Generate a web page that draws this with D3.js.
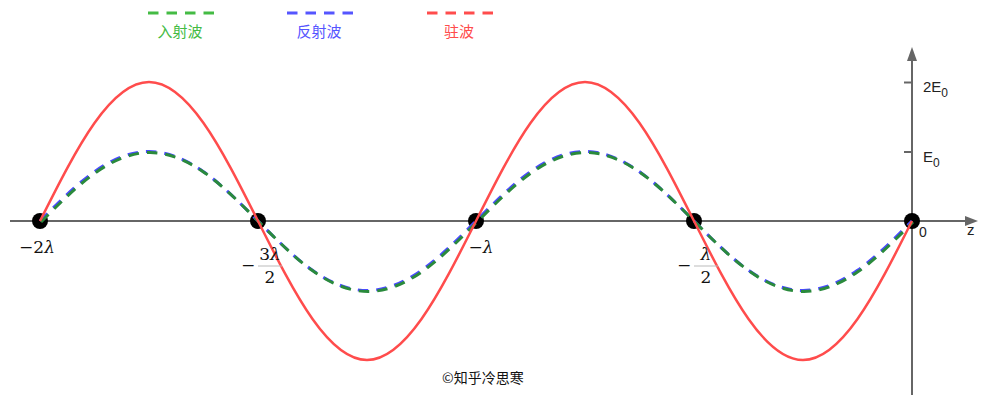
<!DOCTYPE html>
<html>
<head>
<meta charset="utf-8">
<script src="https://cdn.jsdelivr.net/npm/d3@7"></script>
<style>
  body { margin: 0; background: #fff; }
  svg { display: block; }
</style>
</head>
<body>
<div id="chart"></div>
<script>
// z positions in units of lambda, sampled every lambda/8
const zValues = [-2, -1.875, -1.75, -1.625, -1.5, -1.375, -1.25, -1.125, -1,
                 -0.875, -0.75, -0.625, -0.5, -0.375, -0.25, -0.125, 0];
// field values in units of E0
const incident  = [0, 0.71, 1, 0.71, 0, -0.71, -1, -0.71, 0, 0.71, 1, 0.71, 0, -0.71, -1, -0.71, 0];
const reflected = [0, 0.71, 1, 0.71, 0, -0.71, -1, -0.71, 0, 0.71, 1, 0.71, 0, -0.71, -1, -0.71, 0];
const standing  = [0, 1.41, 2, 1.41, 0, -1.41, -2, -1.41, 0, 1.41, 2, 1.41, 0, -1.41, -2, -1.41, 0];

const nodes = [-2, -1.5, -1, -0.5, 0];
const yTicks = [1, 2];
const legendLabels = ['入射波', '反射波', '驻波'];
const legendColors = ['#44bb44', '#5555ff', '#ff4c4c'];

const W = 988, H = 402;
const svg = d3.select('#chart').append('svg')
    .attr('width', W)
    .attr('height', H);

const x = d3.scaleLinear().domain([-2, 0]).range([40, 912]);
const y = d3.scaleLinear().domain([0, 2]).range([221, 82]);

const axisColor = '#666';

// x axis line + arrow
const xEnd = 978;
svg.append('line')
    .attr('x1', 10).attr('x2', xEnd - 10)
    .attr('y1', y(0)).attr('y2', y(0))
    .attr('stroke', axisColor).attr('stroke-width', 2);
svg.append('path')
    .attr('d', `M${xEnd},${y(0)} L${xEnd - 13},${y(0) - 5} L${xEnd - 13},${y(0) + 5} Z`)
    .attr('fill', axisColor);

// y axis line + arrow
const yTop = 47;
svg.append('line')
    .attr('x1', x(0)).attr('x2', x(0))
    .attr('y1', 395).attr('y2', yTop + 10)
    .attr('stroke', axisColor).attr('stroke-width', 2);
svg.append('path')
    .attr('d', `M${x(0)},${yTop} L${x(0) - 5},${yTop + 14} L${x(0) + 5},${yTop + 14} Z`)
    .attr('fill', axisColor);

// y ticks
const yAxis = svg.append('g')
    .attr('transform', `translate(${x(0)},0)`)
    .call(d3.axisLeft(y).tickValues(yTicks).tickSize(8).tickFormat(''));
yAxis.select('.domain').remove();
yAxis.selectAll('line').attr('stroke', axisColor).attr('stroke-width', 2);

// y tick labels with subscripts
const eLab = svg.append('g').attr('font-family', 'Liberation Sans, Arial, sans-serif').attr('fill', '#222');
yTicks.forEach(v => {
    const t = eLab.append('text')
        .attr('x', x(0) + 11)
        .attr('y', y(v) + 10)
        .attr('font-size', 15);
    t.append('tspan').text((v === 1 ? '' : v) + 'E');
    t.append('tspan').attr('dy', 5).attr('font-size', 12).text('0');
});
eLab.append('text').attr('x', x(0) + 7).attr('y', y(0) + 16).attr('font-size', 14).text('0');
eLab.append('text').attr('x', 967).attr('y', y(0) + 14).attr('font-size', 15).text('z');

// node points
svg.append('g').selectAll('circle')
    .data(nodes)
    .enter().append('circle')
    .attr('cx', d => x(d))
    .attr('cy', y(0))
    .attr('r', 8)
    .attr('fill', '#000');

// curves
const line = d3.line()
    .x((d, i) => x(zValues[i]))
    .y(d => y(d))
    .curve(d3.curveNatural);

svg.append('path')
    .datum(reflected)
    .attr('d', line)
    .attr('fill', 'none')
    .attr('stroke', '#4a4aff')
    .attr('stroke-width', 3)
    .attr('stroke-dasharray', '10.5,8');

svg.append('path')
    .datum(incident)
    .attr('d', line)
    .attr('transform', 'translate(1,1)')
    .attr('fill', 'none')
    .attr('stroke', '#2a8a3c')
    .attr('stroke-width', 3)
    .attr('stroke-dasharray', '10.5,8');

svg.append('path')
    .datum(standing)
    .attr('d', line)
    .attr('fill', 'none')
    .attr('stroke', '#ff4c4c')
    .attr('stroke-width', 2.5);

// z labels (lambda)
const mathFont = 'DejaVu Serif, Liberation Serif, serif';
const zl = svg.append('g').attr('font-family', mathFont).attr('fill', '#111').attr('font-size', 17);

function plainLabel(z, pre, dx) {
    const t = zl.append('text').attr('x', x(z) + dx).attr('y', 253).attr('text-anchor', 'middle');
    t.append('tspan').text('−' + pre);
    t.append('tspan').attr('font-style', 'italic').text('λ');
}
plainLabel(-2, '2', -3);
plainLabel(-1, '', 5);

function fracLabel(z, num) {
    const cx = x(z) + 12;
    zl.append('text').attr('x', cx - 22).attr('y', 271).attr('text-anchor', 'middle').text('−');
    const t = zl.append('text').attr('x', cx).attr('y', 260).attr('text-anchor', 'middle');
    if (num) t.append('tspan').text(num);
    t.append('tspan').attr('font-style', 'italic').text('λ');
    svg.append('line')
        .attr('x1', cx - 12).attr('x2', cx + 12)
        .attr('y1', 266).attr('y2', 266)
        .attr('stroke', '#bbb').attr('stroke-width', 1);
    zl.append('text').attr('x', cx).attr('y', 283).attr('text-anchor', 'middle').text('2');
}
fracLabel(-1.5, '3');
fracLabel(-0.5, '');

// legend
const legendCenters = [180, 319, 459];
const lg = svg.append('g');
legendLabels.forEach((lab, i) => {
    const cx = legendCenters[i];
    lg.append('line')
        .attr('x1', cx - 32).attr('x2', cx + 35)
        .attr('y1', 13).attr('y2', 13)
        .attr('stroke', legendColors[i])
        .attr('stroke-width', 3)
        .attr('stroke-dasharray', '10.5,8');
    lg.append('text')
        .attr('x', cx).attr('y', 37)
        .attr('text-anchor', 'middle')
        .attr('font-family', 'Noto Sans CJK SC, sans-serif')
        .attr('font-size', 15)
        .attr('fill', legendColors[i])
        .text(lab);
});

// watermark
svg.append('text')
    .attr('x', 442).attr('y', 383)
    .attr('font-family', 'Noto Sans CJK SC, sans-serif')
    .attr('font-size', 14)
    .attr('fill', '#111')
    .text('©知乎冷思寒');
</script>
</body>
</html>
